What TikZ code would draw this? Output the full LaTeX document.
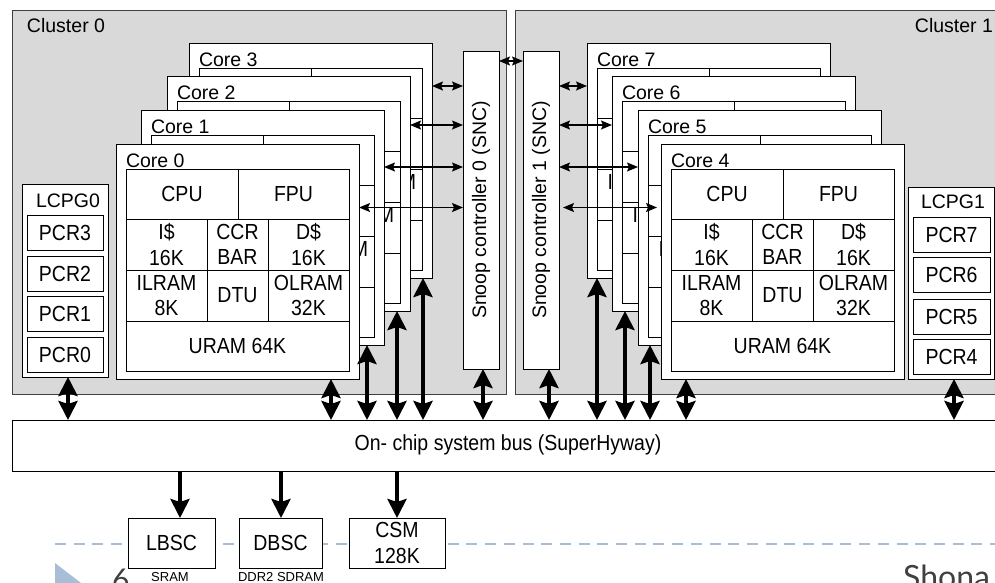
\documentclass[tikz,border=0pt]{standalone}
\usepackage{fontspec}
\setmainfont{Liberation Sans}
\newfontfamily\slidefont{Lato}
\usetikzlibrary{arrows.meta}
\definecolor{clgray}{HTML}{D9D9D9}
\definecolor{slideblue}{HTML}{A7BED6}
\definecolor{slidetext}{HTML}{404040}
\newcommand\fsz{\fontsize{19.5}{25.5}\selectfont}
\newcommand\vst[1]{\scalebox{1}[1.12]{#1}}
\newcommand\coreunit[4]{%
 \node[box, minimum width=243pt, minimum height=235pt] (#1) at (#2,#3) {};
 \node[box, minimum width=112pt, minimum height=50pt] (#1cpu) at (#2+10,#3+25) {\vst{CPU}};
 \node[box, minimum width=111pt, minimum height=50pt] (#1fpu) at (#2+122,#3+25) {\vst{FPU}};
 \node[box, minimum width=81pt, minimum height=51pt] (#1ic) at (#2+10,#3+75) {\vst{I\$}\\\vst{16K}};
 \node[box, minimum width=61pt, minimum height=51pt] (#1ccr) at (#2+91,#3+75) {\vst{CCR}\\\vst{BAR}};
 \node[box, minimum width=81pt, minimum height=51pt] (#1dc) at (#2+152,#3+75) {\vst{D\$}\\\vst{16K}};
 \node[box, minimum width=81pt, minimum height=51pt] (#1il) at (#2+10,#3+126) {\vst{ILRAM}\\\vst{8K}};
 \node[box, minimum width=61pt, minimum height=51pt] (#1dtu) at (#2+91,#3+126) {\vst{DTU}};
 \node[box, minimum width=81pt, minimum height=51pt] (#1ol) at (#2+152,#3+126) {\vst{OLRAM}\\\vst{32K}};
 \node[box, minimum width=223pt, minimum height=50pt] (#1ur) at (#2+10,#3+177) {\vst{URAM 64K}};
 \node[lbl, anchor=base west] (#1lb) at (#2+10,#3+23) {#4};
}
\begin{document}
\begin{tikzpicture}[x=1pt,y=-1pt,
  cluster/.style={draw=black!75, fill=clgray, line width=1pt, inner sep=0pt, outer sep=0pt, anchor=north west},
  box/.style={draw=black, fill=white, line width=0.9pt, inner sep=0pt, outer sep=0pt, anchor=north west, font=\fsz, align=center},
  lbl/.style={inner sep=0pt, outer sep=0pt, font=\fsz},
  thinarr/.style={line width=1.4pt, {Stealth[length=11pt,width=9pt,inset=2pt]}-{Stealth[length=11pt,width=9pt,inset=2pt]}},
  busarr/.style={line width=4pt, {Stealth[length=19pt,width=19pt,inset=3pt]}-{Stealth[length=19pt,width=19pt,inset=3pt]}},
  downarr/.style={line width=4pt, -{Stealth[length=19pt,width=19pt,inset=3pt]}}]
\useasboundingbox (0,0) rectangle (995,582);
\clip (0,0) rectangle (995,582);
\fill[white] (0,0) rectangle (995,582);
% clusters
\node[cluster, minimum width=494pt, minimum height=384pt] (cl0) at (12,10) {};
\node[cluster, minimum width=495pt, minimum height=384pt] (cl1) at (515,10) {};
\node[lbl, anchor=base west] (cl0l) at (27,32) {Cluster 0};
\node[lbl, anchor=base east] (cl1l) at (993,32) {Cluster 1};
% LCPG
\node[box, minimum width=86pt, minimum height=193pt] (lcpg0) at (22,184) {};
\node[lbl, anchor=base] (lcpg0l) at (68,207) {LCPG0};
\node[box, minimum width=76pt, minimum height=35pt] (pcr3) at (27,215) {\vst{PCR3}};
\node[box, minimum width=76pt, minimum height=35pt] (pcr2) at (27,256) {\vst{PCR2}};
\node[box, minimum width=76pt, minimum height=35pt] (pcr1) at (27,296) {\vst{PCR1}};
\node[box, minimum width=76pt, minimum height=35pt] (pcr0) at (27,337) {\vst{PCR0}};
\node[box, minimum width=86pt, minimum height=192pt] (lcpg1) at (908,187) {};
\node[lbl, anchor=base] (lcpg1l) at (953,208) {LCPG1};
\node[box, minimum width=77pt, minimum height=35pt] (pcr7) at (913,217) {\vst{PCR7}};
\node[box, minimum width=77pt, minimum height=35pt] (pcr6) at (913,257) {\vst{PCR6}};
\node[box, minimum width=77pt, minimum height=35pt] (pcr5) at (913,299) {\vst{PCR5}};
\node[box, minimum width=77pt, minimum height=35pt] (pcr4) at (913,339) {\vst{PCR4}};
% snoop controllers
\node[box, minimum width=36pt, minimum height=318pt] (snc0) at (463,51) {};
\node[lbl, rotate=90] (snc0t) at (snc0.center) {Snoop controller 0 (SNC)};
\node[box, minimum width=36pt, minimum height=318pt] (snc1) at (523,51) {};
\node[lbl, rotate=90] (snc1t) at (snc1.center) {Snoop controller 1 (SNC)};
% cores
\coreunit{c3}{189}{43}{Core 3}
\coreunit{c2}{167}{76}{Core 2}
\coreunit{c1}{141}{110}{Core 1}
\coreunit{c0}{116}{144}{Core 0}
\coreunit{c7}{587}{43}{Core 7}
\coreunit{c6}{612}{76}{Core 6}
\coreunit{c5}{638}{110}{Core 5}
\coreunit{c4}{661}{144}{Core 4}
% bus
\node[box, minimum width=995pt, minimum height=51pt] (bus) at (12,420) {};
\node[lbl] (bust) at (508,445) {\vst{On- chip system bus (SuperHyway)}};
% slide decoration
\draw[slideblue, line width=2.5pt, dash pattern=on 11pt off 7.7pt] (55,544) -- (995,544);
\fill[slideblue] (55,563) -- (81,583) -- (55,603) -- cycle;
\node[anchor=base west, inner sep=0pt, text=slidetext, font=\slidefont\fontsize{30}{30}\selectfont] (pg) at (112,590) {6};
\node[anchor=base west, inner sep=0pt, text=slidetext, font=\slidefont\fontsize{32}{32}\selectfont] (ttl) at (903,588) {Shona};
% memory controllers
\node[box, minimum width=87pt, minimum height=50pt] (lbsc) at (128,518) {\vst{LBSC}};
\node[box, minimum width=83pt, minimum height=50pt] (dbsc) at (239,518) {\vst{DBSC}};
\node[box, minimum width=96pt, minimum height=50pt] (csm) at (349,518) {\vst{CSM}\\\vst{128K}};
\node[inner sep=0pt, anchor=base, font=\fontsize{13}{13}\selectfont] (sram) at (170,581.5) {SRAM};
\node[inner sep=0pt, anchor=base, font=\fontsize{13}{13}\selectfont] (ddr) at (281,581.5) {DDR2 SDRAM};
% snoop arrows
\coordinate (yS) at (0,61);
\coordinate (yA) at (0,86);
\coordinate (yB) at (0,125);
\coordinate (yC) at (0,167);
\coordinate (yD) at (0,207.5);
\draw[thinarr] (snc0.east |- yS) -- (snc1.west |- yS);
\draw[thinarr] (c3.east |- yA) -- (snc0.west |- yA);
\draw[thinarr] (c2.east |- yB) -- (snc0.west |- yB);
\draw[thinarr] (c1.east |- yC) -- (snc0.west |- yC);
\draw[thinarr] (c0.east |- yD) -- (snc0.west |- yD);
\draw[thinarr] (snc1.east |- yA) -- (c7.west |- yA);
\draw[thinarr] (snc1.east |- yB) -- (c6.west |- yB);
\draw[thinarr] (snc1.east |- yC) -- (c5.west |- yC);
\draw[thinarr] ([xshift=4pt]snc1.east |- yD) -- ([xshift=-4pt]c4.west |- yD);
% bus arrows
\foreach \nm/\xx in {lcpg0/68, c0/331, c1/367, c2/397, c3/423, snc0/483, snc1/549, c7/597, c6/625, c5/650, c4/686, lcpg1/954}{
  \coordinate (bx-\nm) at (\xx,0);
  \draw[busarr] (bx-\nm |- \nm.south) -- (bx-\nm |- bus.north);
}
\foreach \nm/\xx in {lbsc/180, dbsc/281, csm/397}{
  \coordinate (dx-\nm) at (\xx,0);
  \draw[downarr] (dx-\nm |- bus.south) -- (dx-\nm |- \nm.north);
}
\end{tikzpicture}
\end{document}
